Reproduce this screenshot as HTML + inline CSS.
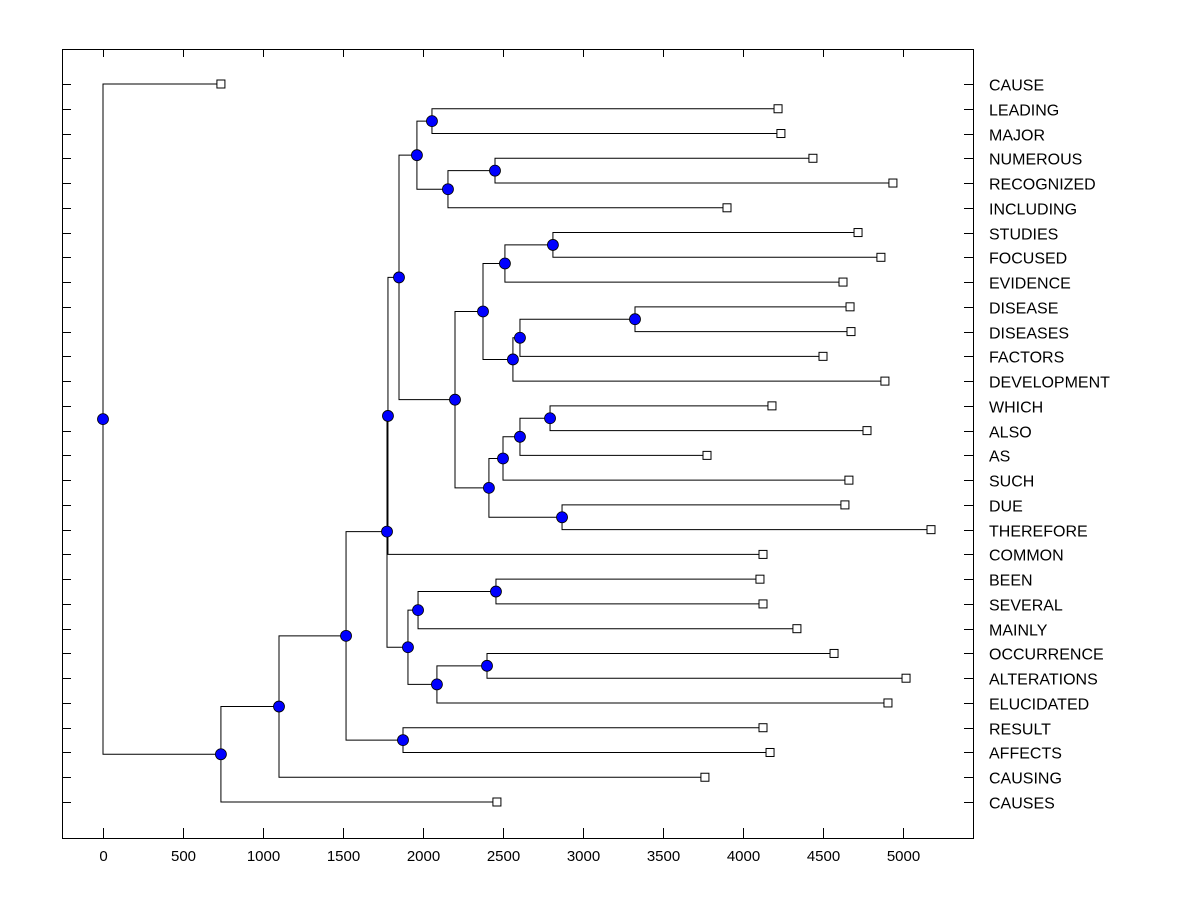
<!DOCTYPE html>
<html><head><meta charset="utf-8"><style>
html,body{margin:0;padding:0;background:#fff;}
svg{display:block;font-family:"Liberation Sans",Arial,sans-serif;}
</style></head><body>
<svg id="chart" width="1200" height="900" viewBox="0 0 1200 900"></svg>
<script>
const leafNames = ["CAUSE","LEADING","MAJOR","NUMEROUS","RECOGNIZED","INCLUDING","STUDIES","FOCUSED","EVIDENCE","DISEASE","DISEASES","FACTORS","DEVELOPMENT","WHICH","ALSO","AS","SUCH","DUE","THEREFORE","COMMON","BEEN","SEVERAL","MAINLY","OCCURRENCE","ALTERATIONS","ELUCIDATED","RESULT","AFFECTS","CAUSING","CAUSES"];
const leafValues = [737,4219,4237,4437,4937,3900,4719,4862,4625,4669,4675,4500,4887,4181,4775,3775,4662,4637,5175,4125,4106,4125,4337,4569,5019,4906,4125,4169,3762,2462];
// internal nodes: height, left child, right child (L# = leaf, other = node id)
const nodeIds     = ["root","nA","nB","nC","nR","nD","nE","nG","nH","nJ","nK","nL","nI","nM","nO","nQ","nP","nT","nU","nN","nV","nX","nY","nW","nS","nZ","nAB","nAA","nAC"];
const nodeHeights = [0,737,1100,1519,1875,1775,1781,1850,1962,2056,2156,2450,2200,2375,2512,2812,2562,2606,3325,2412,2500,2606,2794,2869,1906,1969,2456,2087,2400];
const nodeLeft    = ["L0","nB","nC","nD","L26","nE","nG","nH","nJ","L1","nL","L3","nM","nO","nQ","L6","nT","nU","L9","nV","nX","nY","L13","L17","nZ","nAB","L20","nAC","L23"];
const nodeRight   = ["nA","L29","L28","nR","L27","nS","L19","nI","nK","L2","L5","L4","nN","nP","L8","L7","L12","L11","L10","nW","L16","L15","L14","L18","nAA","L22","L21","L25","L24"];
const xTicks = [0,500,1000,1500,2000,2500,3000,3500,4000,4500,5000];

const svg = document.getElementById('chart');
const NS = 'http://www.w3.org/2000/svg';
const L=62,R=973,T=49,B=838;
const xs = v => 103 + v*0.16;
const ys = i => 84 + i*(718/(leafNames.length-1));
function mk(tag, attrs, parent){const e=document.createElementNS(NS,tag);for(const k in attrs)e.setAttribute(k,attrs[k]);(parent||svg).appendChild(e);return e;}

const frame = mk('rect',{x:L+0.5,y:T+0.5,width:R-L,height:B-T,fill:'none',stroke:'#000','stroke-width':1});



const xAxis = mk('g',{});


xTicks.forEach(t=>{
  const x=Math.round(xs(t))+0.5;
  const tb=mk('line',{x1:x,x2:x,y1:B,y2:B-10,stroke:'#000'},xAxis);
  
  
  const tt=mk('line',{x1:x,x2:x,y1:T,y2:T+8,stroke:'#000'},xAxis);
  
  
  const lb=mk('text',{x:x,y:861,'text-anchor':'middle','font-size':15,fill:'#000'},xAxis);
  lb.textContent=t;
  
  
});

const yAxis = mk('g',{});


leafNames.forEach((n,i)=>{
  const y=Math.round(ys(i))+0.5;
  const a=mk('line',{x1:L,x2:L+9,y1:y,y2:y,stroke:'#000'},yAxis);
  
  
  const b=mk('line',{x1:R-9,x2:R,y1:y,y2:y,stroke:'#000'},yAxis);
  
  
  const t=mk('text',{x:989,y:y+6,'font-size':16,fill:'#000'},yAxis);
  t.textContent=n;
  
  
});

const idx = {}; nodeIds.forEach((id,i)=>idx[id]=i);
let order=0; const leafRow=[];
function place(c){
  if(/^L\d+$/.test(c)){const li=+c.slice(1);leafRow[li]=order++;return {x:xs(leafValues[li]),y:ys(leafRow[li]),leaf:li};}
  const i=idx[c];
  const a=place(nodeLeft[i]), b=place(nodeRight[i]);
  return {x:xs(nodeHeights[i]),y:(a.y+b.y)/2,a:a,b:b,node:i};
}
const tree = place('root');
const lines=mk('g',{});  
const marks=mk('g',{});  
function draw(n){
  if(n.leaf!==undefined){
    const s=mk('rect',{x:n.x-4,y:n.y-4,width:8,height:8,fill:'#fff',stroke:'#000'},marks);
    
    
    return;
  }
  [n.a,n.b].forEach(c=>{
    const p=mk('polyline',{points:`${n.x},${n.y} ${n.x},${c.y} ${c.x},${c.y}`,fill:'none',stroke:'#000','stroke-width':1},lines);
    
    
    draw(c);
  });
  const ci=mk('circle',{cx:n.x,cy:n.y,r:5.5,fill:'#0000ff',stroke:'#000','stroke-width':0.8},marks);
  
  
}
draw(tree);
</script>
</body></html>
